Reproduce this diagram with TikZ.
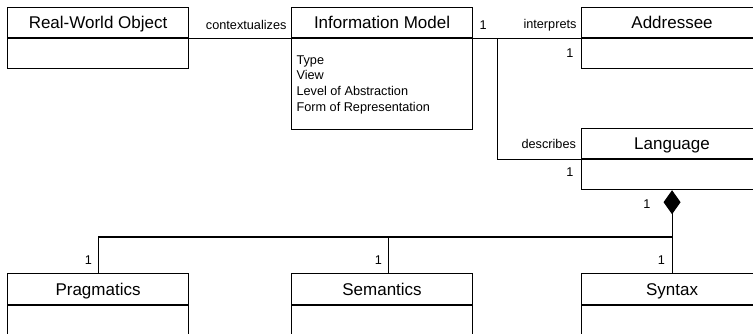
\documentclass[tikz,border=0pt]{standalone}
\usepackage{fontspec}
\setmainfont{Liberation Sans}
\usetikzlibrary{calc,positioning,arrows.meta}

\begin{document}
\begin{tikzpicture}[x=1pt,y=-1pt,node distance=0pt,line width=1.1pt,
	classname/.style={draw,minimum width=181pt,minimum height=30pt,inner sep=0pt,anchor=north west,text height=14pt,text depth=2pt,font=\fontsize{17}{20}\selectfont},
	classbody/.style={draw,minimum width=181pt,minimum height=30pt,inner sep=0pt},
	lbl/.style={inner sep=0pt,text depth=0pt,font=\fontsize{12.7}{15.6}\selectfont}]
					\useasboundingbox (0,0) rectangle (753,333);
					\clip (0,0) rectangle (753,333);

					% classes
					\node[classname] (rwo) at (7,7) {Real-World Object};
					\node[classbody, below=of rwo] (rwobody) {};
					\node[classname] (im) at (291,7) {Information Model};
					\node[classbody, below=of im, minimum height=91pt] (imbody) {};
					\node[lbl, align=left, below right=17pt and 5pt of imbody.north west] (imattr) {Type\\View\\Level of Abstraction\\Form of Representation};
					\node[classname] (addr) at (581,7) {Addressee};
					\node[classbody, below=of addr] (addrbody) {};
					\node[classname] (lang) at (581,128) {Language};
					\node[classbody, below=of lang] (langbody) {};
					\node[classname, minimum height=31pt] (prag) at (7,273) {Pragmatics};
					\node[classbody, below=of prag, minimum height=40pt] (pragbody) {};
					\node[classname, minimum height=31pt] (sem) at (291,273) {Semantics};
					\node[classbody, below=of sem, minimum height=40pt] (sembody) {};
					\node[classname, minimum height=31pt] (synt) at (581,273) {Syntax};
					\node[classbody, below=of synt, minimum height=40pt] (syntbody) {};

					\coordinate (fork) at ($(im.south east)+(24,0)$);
					\coordinate (hub) at (synt.north |- 0,237);
					\coordinate (semtop) at ($(sem.north)+(6,0)$);

					% associations
					\draw (rwo.south east) -- (im.south west);
					\draw (im.south east) -- (addr.south west);
					\draw (fork) |- (lang.south west);
					\node[lbl, above left=8pt and 4pt of im.south west] (ctxlbl) {contextualizes};
					\node[lbl, above right=8.5pt and 6pt of im.south east] (imone) {1};
					\node[lbl, above left=9pt and 4pt of addr.south west] (intlbl) {interprets};
					\node[lbl, below left=10pt and 7pt of addr.south west] (addrone) {1};
					\node[lbl, above left=10pt and 4.5pt of lang.south west] (desclbl) {describes};
					\node[lbl, below left=8pt and 7pt of lang.south west] (langone) {1};

					% composition
					\draw[-{Diamond[length=24pt,width=17pt]}] (synt.north) -- (langbody.south);
					\draw (prag.north) |- (hub);
					\draw (semtop) -- (semtop |- hub);
					\node[lbl, below left=9pt and 21pt of langbody.south] (compone) {1};
					\node[lbl, above left=7.5pt and 5.5pt of prag.north] (pragone) {1};
					\node[lbl, above left=7.5pt and 5.5pt of semtop] (semone) {1};
					\node[lbl, above left=7.5pt and 6.5pt of synt.north] (syntone) {1};
				\end{tikzpicture}
\end{document}
